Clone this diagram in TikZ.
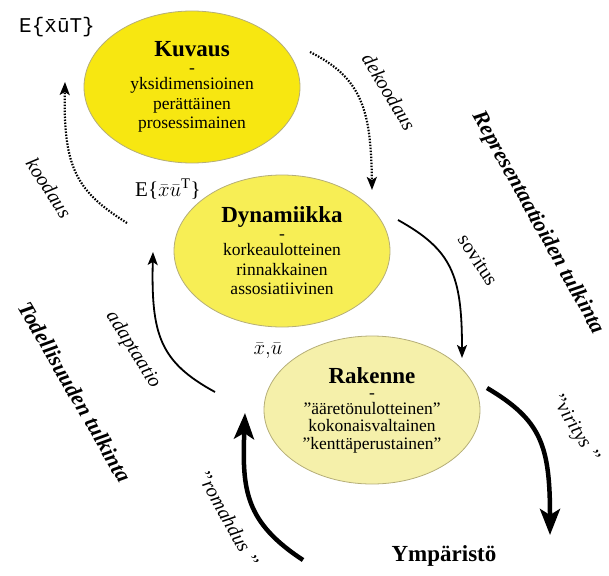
\documentclass[tikz,border=0pt]{standalone}
\usepackage{fontspec}
\setmainfont{Liberation Serif}
\setmonofont{Liberation Mono}
\usetikzlibrary{shapes.geometric,arrows.meta}
\definecolor{kuvausfill}{HTML}{F7E711}
\definecolor{dynfill}{HTML}{F7EE55}
\definecolor{rakfill}{HTML}{F5F0AA}
\definecolor{rim}{HTML}{B5AE78}

\begin{document}
\begin{tikzpicture}[x=1pt, y=-1pt,
  blob/.style={ellipse, draw=rim, line width=0.8pt, minimum width=216pt,
    minimum height=152pt, inner sep=0pt, align=center,
    font=\fontsize{17.5}{19.5}\selectfont},
  head/.style={font=\fontsize{23}{23}\selectfont\bfseries},
  verb/.style={font=\fontsize{20}{20}\selectfont\itshape},
  side/.style={font=\fontsize{22}{22}\selectfont\bfseries\itshape},
  dotarrow/.style={line width=2.2pt, dash pattern=on 1.5pt off 1.5pt,
    -{Stealth[length=13pt, width=10pt, inset=3pt]}},
  thinarrow/.style={line width=1.8pt, -{Stealth[length=13pt, width=10pt, inset=3pt]}},
  thickarrow/.style={line width=4.5pt, -{Stealth[length=26pt, width=20pt, inset=6pt]}}]
  \useasboundingbox (0, 0) rectangle (609, 575);

  \node[blob, fill=kuvausfill] (kuvaus) at (192, 87)
    {{\fontsize{23}{23}\selectfont\bfseries Kuvaus}\\[-3pt] -\\[-3pt]
     yksidimensioinen\\ perättäinen\\ prosessimainen};
  \node[blob, fill=dynfill] (dynamiikka) at (282, 251)
    {{\fontsize{23}{23}\selectfont\bfseries Dynamiikka}\\[-3pt] -\\[-3pt]
     korkeaulotteinen\\ rinnakkainen\\ assosiatiivinen};
  \node[blob, fill=rakfill, minimum height=148pt] (rakenne) at (372, 410)
    {{\fontsize{23}{23}\selectfont\bfseries Rakenne}\\[-4pt] -\\[-4pt]
     ”ääretönulotteinen”\\[-2pt] kokonaisvaltainen\\[-2pt] ”kenttäperustainen”};
  \node[head] (ymparisto) at (444, 556) {Ympäristö};

  \node[font=\fontsize{21}{21}\selectfont\ttfamily] (etulo) at (57, 27)
    {E\{\={x}\={u}T\}};
  \node[font=\fontsize{21}{21}\selectfont] (eodote) at (168, 189)
    {E\{$\bar{x}\bar{u}^{\mathrm{T}}$\}};
  \node[font=\fontsize{20}{20}\selectfont] (tila) at (268, 351)
    {$\bar{x}{,}\bar{u}$};

  \coordinate (koodaus-a) at (127, 223);
  \coordinate (koodaus-b) at (65, 82);
  \coordinate (dekoodaus-a) at (310, 52);
  \coordinate (dekoodaus-b) at (372, 190);
  \coordinate (sovitus-a) at (398, 220);
  \coordinate (sovitus-b) at (462, 358);
  \coordinate (adaptaatio-a) at (215, 392);
  \coordinate (adaptaatio-b) at (153, 252);
  \coordinate (romahdus-a) at (303, 560);
  \coordinate (romahdus-b) at (245, 413);
  \coordinate (viritys-a) at (487, 388);
  \coordinate (viritys-b) at (550, 535);

  \draw[dotarrow] (koodaus-a) .. controls (78, 192) and (63, 170) .. (koodaus-b);
  \draw[dotarrow] (dekoodaus-a) .. controls (362, 78) and (371, 110) .. (dekoodaus-b);
  \draw[thinarrow] (sovitus-a) .. controls (452, 250) and (462, 275) .. (sovitus-b);
  \draw[thinarrow] (adaptaatio-a) .. controls (160, 362) and (151, 335) .. (adaptaatio-b);
  \draw[thickarrow] (romahdus-a) .. controls (245, 522) and (242, 490) .. (romahdus-b);
  \draw[thickarrow] (viritys-a) .. controls (541, 420) and (550, 445) .. (viritys-b);

  \node[verb, rotate=-57] (koodaus) at (49, 188) {koodaus};
  \node[verb, rotate=-59] (dekoodaus) at (389, 92) {dekoodaus};
  \node[font=\fontsize{20}{20}\selectfont, rotate=-57] (sovitus) at (478, 260) {sovitus};
  \node[verb, rotate=-58] (adaptaatio) at (133, 350) {adaptaatio};
  \node[verb, rotate=-61] (romahdus) at (228, 518) {’’romahdus ’’};
  \node[verb, rotate=-59] (viritys) at (574, 428) {’’viritys ’’};

  \node[side, rotate=-60] (todellisuus) at (75, 392) {Todellisuuden tulkinta};
  \node[side, rotate=-61] (representaatio) at (538, 223) {Representaatioiden tulkinta};
\end{tikzpicture}
\end{document}
